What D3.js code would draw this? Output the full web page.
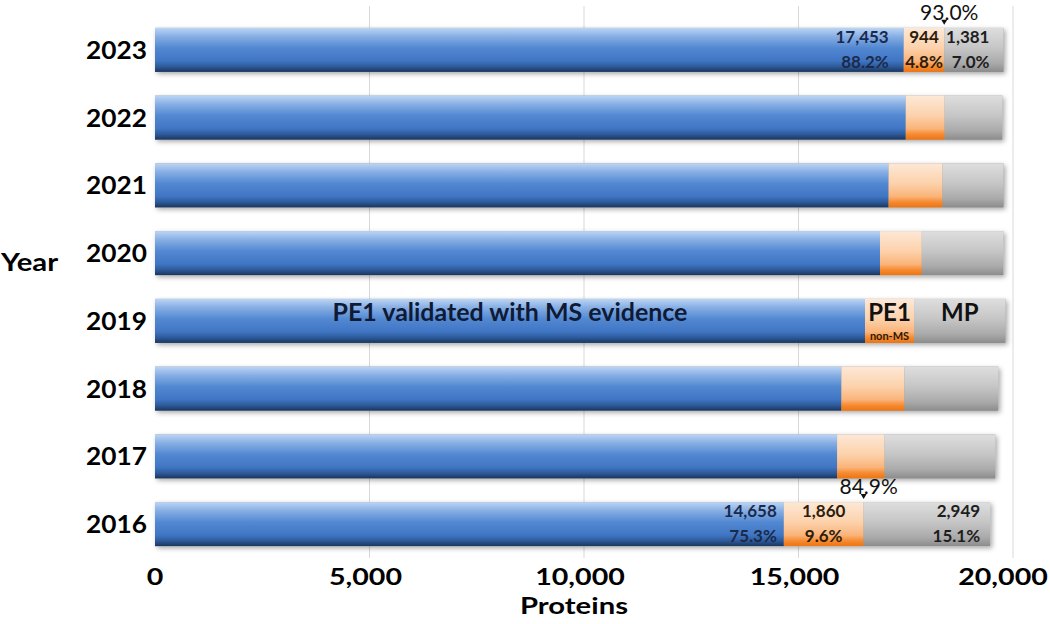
<!DOCTYPE html>
<html><head><meta charset="utf-8">
<script src="https://cdn.jsdelivr.net/npm/d3@7"></script>
<style>body{margin:0;background:#fff}svg{display:block;font-family:Lato,"Open Sans",sans-serif}</style>
</head><body><svg id="c" width="1050" height="624"></svg>
<script>
const years = ["2023","2022","2021","2020","2019","2018","2017","2016"];
const msValidated = [17453,17500,17100,16900,16550,16000,15900,14658];
const nonMs = [944,907,1257,974,1144,1470,1108,1860];
const missing = [1381,1343,1421,1899,2129,2186,2579,2949];
const xTicks = [0,5000,10000,15000,20000];
const segLabels = {
  "2023": {counts:["17,453","944","1,381"], pcts:["88.2%","4.8%","7.0%"], total:"93.0%"},
  "2016": {counts:["14,658","1,860","2,949"], pcts:["75.3%","9.6%","15.1%"], total:"84.9%"}
};

const svg = d3.select("#c");
const x = d3.scaleLinear().domain([0,20000]).range([155,1013]);
const y = d3.scaleBand().domain(years).range([16,558]).paddingInner(0.35).paddingOuter(0.175);

// helper: text stretched horizontally
function sText(parent, tx, ty, str, size, sx, anchor){
  return parent.append("text").attr("transform",`translate(${tx},${ty}) scale(${sx},1)`)
    .attr("text-anchor",anchor||"start").attr("font-size",size).text(str);
}

const defs = svg.append("defs");
function grad(id, stops){
  const g = defs.append("linearGradient").attr("id",id).attr("x1",0).attr("y1",0).attr("x2",0).attr("y2",1);
  stops.forEach(s=>g.append("stop").attr("offset",s[0]).attr("stop-color",s[1]));
}
grad("gBlue",[["0%","#bcd5f4"],["20%","#86aee4"],["45%","#5389d2"],["75%","#3f75c3"],["88%","#2d5a99"],["100%","#1a355e"]]);
grad("gOrange",[["0%","#fde8d6"],["45%","#fcd2ac"],["75%","#fab47a"],["88%","#f68a30"],["100%","#ec7412"]]);
grad("gGray",[["0%","#dedede"],["45%","#c6c6c6"],["80%","#aaaaaa"],["100%","#8c8c8c"]]);
const f = defs.append("filter").attr("id","sh").attr("x","-5%").attr("y","-30%").attr("width","110%").attr("height","170%");
f.append("feDropShadow").attr("dx",2).attr("dy",2).attr("stdDeviation",2.5).attr("flood-color","#000").attr("flood-opacity",0.35);

// gridlines
svg.append("g").selectAll("line").data(xTicks.slice(1)).join("line")
  .attr("x1",d=>x(d)).attr("x2",d=>x(d)).attr("y1",6).attr("y2",558)
  .attr("stroke","#d9d9d9").attr("stroke-width",1);

// bars
const rows = years.map((yr,i)=>({yr, segs:[
  {x0:0, v:msValidated[i], fill:"url(#gBlue)"},
  {x0:msValidated[i], v:nonMs[i], fill:"url(#gOrange)"},
  {x0:msValidated[i]+nonMs[i], v:missing[i], fill:"url(#gGray)"}
]}));
const rg = svg.append("g").selectAll("g").data(rows).join("g");
rg.append("rect").attr("x",x(0)).attr("y",d=>y(d.yr))
  .attr("width",d=>x(d.segs[2].x0+d.segs[2].v)-x(0)).attr("height",y.bandwidth())
  .attr("fill","#999").attr("filter","url(#sh)");
rg.selectAll("rect.s").data(d=>d.segs.map(s=>({...s,yr:d.yr}))).join("rect").attr("class","s")
  .attr("x",s=>x(s.x0)).attr("y",s=>y(s.yr)).attr("width",s=>x(s.x0+s.v)-x(s.x0)).attr("height",y.bandwidth())
  .attr("fill",s=>s.fill);

// y labels
const yl = svg.append("g").attr("font-weight",700).attr("fill","#000");
years.forEach(d=>sText(yl,147,y(d)+y.bandwidth()/2+9,d,25,1.05,"end"));
sText(yl,1,271,"Year",24,1.22,"start");

// x ticks
const xl = svg.append("g").attr("font-weight",700).attr("fill","#000");
xTicks.forEach(d=>sText(xl,x(d)-(d===20000?10:(d===0?0:4)),585,d3.format(",")(d),22,1.3,"middle"));
sText(xl,574,614,"Proteins",22,1.33,"middle");

// segment labels
const offs = {"2023":[-15,0,-14],"2016":[-7,0,-10]};
Object.keys(segLabels).forEach(yr=>{
  const i = years.indexOf(yr), L = segLabels[yr];
  const b0 = msValidated[i], b1 = b0+nonMs[i], b2 = b1+missing[i];
  const top = y(yr), g = svg.append("g").attr("font-weight",700).attr("font-size",17);
  const cols = ["#1b2a4c","#2d1d0c","#1e1e1e"];
  const o = offs[yr];
  const xs = [x(b0)+o[0], (x(b0)+x(b1))/2+o[1], x(b2)+o[2]];
  const anchors = ["end","middle","end"];
  [0,1,2].forEach(k=>{
    g.append("text").attr("x",xs[k]).attr("y",top+15).attr("text-anchor",anchors[k]).attr("fill",cols[k]).text(L.counts[k]);
    g.append("text").attr("x",xs[k]).attr("y",top+40).attr("text-anchor",anchors[k]).attr("fill",cols[k]).text(L.pcts[k]);
  });
  const ax = x(b1);
  svg.append("text").attr("x",ax+5).attr("y",top-8).attr("text-anchor","middle")
    .attr("font-size",21).attr("fill","#111").text(L.total);
  svg.append("path").attr("d",`M${ax-3},${top-8}L${ax+3},${top-8}L${ax},${top-3}Z`).attr("fill","#111");
});

// 2019 annotations
(function(){
  const yr="2019", i=years.indexOf(yr), top=y(yr);
  const b0=msValidated[i], b1=b0+nonMs[i], b2=b1+missing[i];
  const g = svg.append("g").attr("font-weight",700);
  sText(g,510,top+22,"PE1 validated with MS evidence",24,1.04,"middle").attr("fill","#0f1a36");
  sText(g,(x(b0)+x(b1))/2,top+22,"PE1",24,1,"middle").attr("fill","#111");
  g.append("text").attr("x",(x(b0)+x(b1))/2).attr("y",top+41).attr("text-anchor","middle")
    .attr("font-size",11).attr("fill","#2a1a0a").text("non-MS");
  sText(g,(x(b1)+x(b2))/2,top+22,"MP",24,1,"middle").attr("fill","#111");
})();
</script></body></html>
